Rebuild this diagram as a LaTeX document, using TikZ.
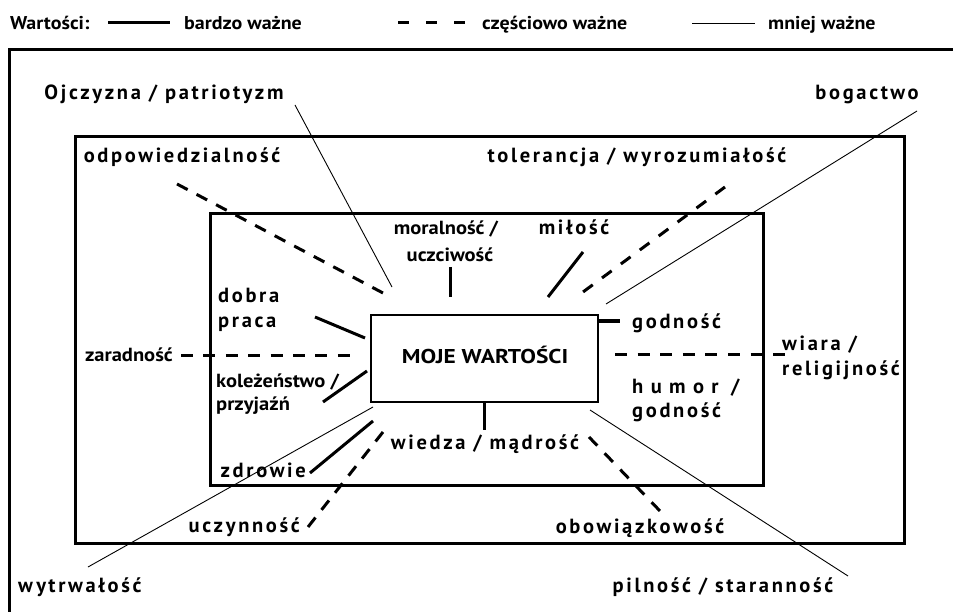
\documentclass[tikz,border=0pt]{standalone}
\usepackage{fontspec}
\setmainfont{PT Sans}
\newfontfamily\spacedfont[LetterSpace=13]{PT Sans}
\newfontfamily\widefont[LetterSpace=36]{PT Sans}
\newfontfamily\broadfont[FakeStretch=1.08]{PT Sans}
\newfontfamily\corefont[FakeStretch=1.17]{PT Sans}

\begin{document}
\begin{tikzpicture}[x=1pt,y=-1pt,
  frame/.style={line width=3pt},
  corebox/.style={line width=2pt},
  strong/.style={line width=3pt},
  partial/.style={line width=3pt, dash pattern=on 12pt off #1pt},
  partial/.default=10,
  weak/.style={line width=0.9pt},
  lbl/.style={font=\spacedfont\bfseries\fontsize{20.5}{24}\selectfont, inner sep=0pt},
  wlbl/.style={font=\widefont\bfseries\fontsize{20.5}{24}\selectfont, inner sep=0pt},
  clbl/.style={font=\broadfont\bfseries\fontsize{19}{22}\selectfont, inner sep=0pt},
  leg/.style={font=\broadfont\bfseries\fontsize{18.5}{20}\selectfont, inner sep=0pt, anchor=base west},
]
\useasboundingbox (0,0) rectangle (953,612);

% legend
\node[leg] (legtitle) at (10,30) {Wartości:};
\coordinate (lgA1) at (108,23); \coordinate (lgA2) at (170,23);
\draw[strong] (lgA1) -- (lgA2);
\node[leg] (legstrong) at (184,30) {bardzo ważne};
\coordinate (lgB1) at (398,23); \coordinate (lgB2) at (465,23);
\draw[line width=3pt, dash pattern=on 11pt off 17pt] (lgB1) -- (lgB2);
\node[leg] (legpartial) at (482,30) {częściowo ważne};
\coordinate (lgC1) at (692,23); \coordinate (lgC2) at (755,23);
\draw[weak] (lgC1) -- (lgC2);
\node[leg] (legweak) at (768,30) {mniej ważne};

% nested frames
\draw[frame] (9,612) -- (9,50) -- (953,50);
\draw[frame] (75,137) rectangle (904,543);
\draw[frame] (210,214) rectangle (763,485);
\draw[corebox] (371,315) rectangle (598,402);
\node[font=\corefont\bfseries\fontsize{20}{22}\selectfont, inner sep=0pt, anchor=base] (core) at (485,363) {MOJE WARTOŚCI};

% labels
\node[lbl, anchor=base] (ojczyzna) at (164,100) {Ojczyzna / patriotyzm};
\node[lbl, anchor=base] (bogactwo) at (867,100) {bogactwo};
\node[lbl, anchor=base] (odpow) at (182,163) {odpowiedzialność};
\node[lbl, anchor=base] (toler) at (637,163) {tolerancja / wyrozumiałość};
\node[clbl, anchor=base] (moral) at (446,235) {moralność /};
\node[clbl, anchor=base] (uczciw) at (450,262) {uczciwość};
\node[lbl, anchor=base] (milosc) at (574,235) {miłość};
\node[lbl, anchor=base west] (dobra) at (218,303) {dobra};
\node[lbl, anchor=base west] (praca) at (218,327) {praca};
\node[lbl, anchor=base west] (godnosc) at (632,328) {godność};
\node[clbl, anchor=base east] (zaradn) at (173,361) {zaradność};
\node[lbl, anchor=base west] (wiara) at (782,350) {wiara /};
\node[lbl, anchor=base west] (relig) at (782,375) {religijność};
\node[clbl, anchor=base west] (kolez) at (216,387) {koleżeństwo /};
\node[clbl, anchor=base west] (przyj) at (216,410) {przyjaźń};
\node[wlbl, anchor=base west] (humor) at (632,393) {humor /};
\node[lbl, anchor=base west] (godnosc2) at (632,417) {godność};
\node[lbl, anchor=base] (wiedza) at (485,449) {wiedza / mądrość};
\node[lbl, anchor=base east] (zdrowie) at (306,477) {zdrowie};
\node[lbl, anchor=base east] (uczynn) at (300,532) {uczynność};
\node[lbl, anchor=base] (obowiaz) at (640,533) {obowiązkowość};
\node[lbl, anchor=base west] (wytrw) at (18,592) {wytrwałość};
\node[lbl, anchor=base] (pilnosc) at (723,592) {pilność / staranność};

% connector end points
\coordinate (ojA) at (295,105);   \coordinate (ojB) at (392,287);
\coordinate (odA) at (177,184);   \coordinate (odB) at (383,293);
\coordinate (moA) at (450,267);   \coordinate (moB) at (450,297);
\coordinate (miA) at (583,252);   \coordinate (miB) at (548,297);
\coordinate (toA) at (725,187);   \coordinate (toB) at (583,292);
\coordinate (boA) at (917,111);   \coordinate (boB) at (606,304);
\coordinate (doA) at (315,317);   \coordinate (doB) at (365,338);
\coordinate (goA) at (598,321);   \coordinate (goB) at (620,321);
\coordinate (zaA) at (181,355);   \coordinate (zaB) at (350,355);
\coordinate (wiA) at (615,354);   \coordinate (wiB) at (785,354);
\coordinate (koA) at (367,371);   \coordinate (koB) at (323,402);
\coordinate (piA) at (590,410);   \coordinate (piB) at (848,576);
\coordinate (weA) at (484,402);   \coordinate (weB) at (484,430);
\coordinate (obA) at (589,437);   \coordinate (obB) at (660,511);
\coordinate (zdA) at (373,421);   \coordinate (zdB) at (310,473);
\coordinate (ucA) at (383,432);   \coordinate (ucB) at (308,527);
\coordinate (wyA) at (373,407);   \coordinate (wyB) at (88,567);

% connectors: thin = less important, dashed = partly, thick = very important
\draw[weak] (ojA) -- (ojB);
\draw[partial=10.1] (odA) -- (odB);
\draw[strong] (moA) -- (moB);
\draw[strong] (miA) -- (miB);
\draw[partial=11.5] (toA) -- (toB);
\draw[weak] (boA) -- (boB);
\draw[strong] (doA) -- (doB);
\draw[strong] (goA) -- (goB);
\draw[partial=10.4] (zaA) -- (zaB);
\draw[partial=10.6] (wiA) -- (wiB);
\draw[strong] (koA) -- (koB);
\draw[weak] (piA) -- (piB);
\draw[strong] (weA) -- (weB);
\draw[partial=10.6] (obA) -- (obB);
\draw[strong] (zdA) -- (zdB);
\draw[partial=9.8] (ucA) -- (ucB);
\draw[weak] (wyA) -- (wyB);
\end{tikzpicture}
\end{document}
